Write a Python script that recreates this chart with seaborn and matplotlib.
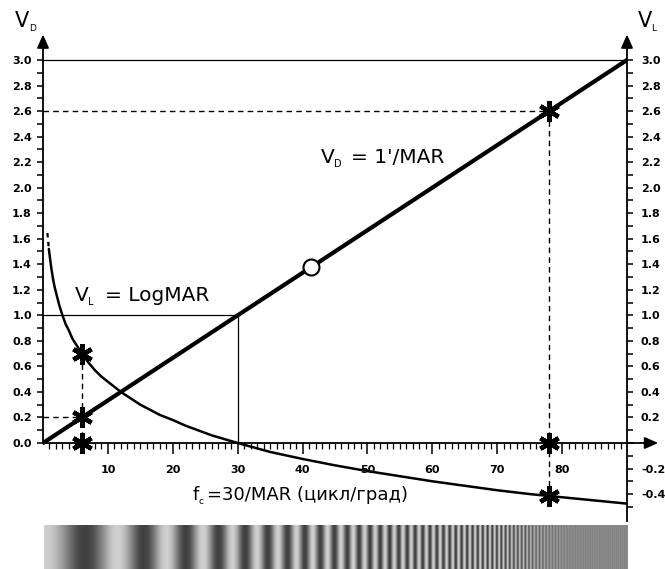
import numpy as np
import matplotlib
matplotlib.use("Agg")
import matplotlib.pyplot as plt
import seaborn as sns

# ---------------- data ----------------
fc_vd = [0, 90]                 # V_D = 1'/MAR line (fc = 30/MAR)
vd = [0.0, 3.0]

fc_vl = [0.9, 1.0, 1.2, 1.4, 1.6, 1.8, 2, 2.5, 3, 3.5, 4, 4.5, 5, 6, 7, 8, 9, 10, 12,
         15, 18, 20, 22, 26, 30, 35, 40, 45, 50, 55, 60, 65, 70, 75, 78, 82, 86, 90]
vl = [1.52, 1.48, 1.40, 1.33, 1.27, 1.22, 1.18, 1.08, 1.00, 0.93, 0.88, 0.82, 0.78,
      0.70, 0.63, 0.57, 0.52, 0.48, 0.40, 0.30, 0.22, 0.18, 0.135, 0.06, 0.0, -0.07,
      -0.125, -0.175, -0.22, -0.26, -0.30, -0.335, -0.37, -0.40, -0.415, -0.435,
      -0.455, -0.475]
fc_vl_dash = [0.68, 0.9]
vl_dash = [1.645, 1.52]

star_fc = [6, 6, 6, 78, 78, 78]
star_v = [0.70, 0.20, 0.0, 2.60, 0.0, -0.415]
circle_fc = [41.3]
circle_v = [1.377]

# reference lines (x pairs, y pairs)
solid_refs = [([0, 90], [3.0, 3.0]), ([0, 30], [1.0, 1.0]), ([30, 30], [1.0, 0.0])]
dashed_refs = [([0, 78], [2.6, 2.6]), ([78, 78], [2.6, -0.415]),
               ([0, 6], [0.2, 0.2]), ([6, 6], [0.7, 0.0])]

left_ticks = [0.0, 0.2, 0.4, 0.6, 0.8, 1.0, 1.2, 1.4, 1.6, 1.8, 2.0, 2.2, 2.4, 2.6, 2.8, 3.0]
right_ticks = [-0.4, -0.2, 0.2, 0.4, 0.6, 0.8, 1.0, 1.2, 1.4, 1.6, 1.8, 2.0, 2.2, 2.4,
               2.6, 2.8, 3.0]
x_ticks = [10, 20, 30, 40, 50, 60, 70, 80]

label_vd = "1'/MAR"
label_vl = "LogMAR"
label_x = "=30/MAR (цикл/град)"

# grating texture parameters (period in px at left edge, decay rate)
grating_p0 = 95.0
grating_k = 0.00674

# ---------------- figure ----------------
sns.set_theme(style="white")
plt.rcParams["font.family"] = ["DejaVu Sans"]
plt.rcParams["text.color"] = "black"
plt.rcParams["axes.labelcolor"] = "black"

W, H = 665, 569
fig = plt.figure(figsize=(W / 100, H / 100), dpi=100)
fig.patch.set_facecolor("white")

x0px, x90px = 43, 627
y3px, y0px = 60, 443
ppy = (y0px - y3px) / 3.0
ylo, yhi = -0.62, 3.05
bottom_px = y0px - ylo * ppy
top_px = y0px - yhi * ppy
ax = fig.add_axes([x0px / W, 1 - bottom_px / H, (x90px - x0px) / W, (bottom_px - top_px) / H])
ax.set_facecolor("none")
ax.set_xlim(0, 90)
ax.set_ylim(ylo, yhi)

# reference lines
for xs, ys in solid_refs:
    ax.plot(xs, ys, color="black", lw=0.9, zorder=2, solid_capstyle="butt")
for xs, ys in dashed_refs:
    ax.plot(xs, ys, color="black", lw=1.0, ls=(0, (4, 3)), zorder=2)

# curves
sns.lineplot(x=fc_vl, y=vl, ax=ax, color="black", lw=1.8, zorder=3, sort=False)
ax.plot(fc_vl_dash, vl_dash, color="black", lw=1.6, ls=(0, (2, 2)), zorder=3)
sns.lineplot(x=fc_vd, y=vd, ax=ax, color="black", lw=3.0, zorder=4, sort=False)

ax.plot(star_fc, star_v, ls="none", marker=(6, 2, 0), ms=15, mew=3.2, color="black",
        zorder=6, clip_on=False)
ax.plot(circle_fc, circle_v, ls="none", marker="o", ms=11.5, mfc="white", mec="black",
        mew=1.5, zorder=7)

# spines
for s in ["top", "right"]:
    ax.spines[s].set_visible(False)
ax.spines["left"].set_bounds(0, 3.0)
ax.spines["left"].set_linewidth(1.3)
ax.spines["left"].set_color("black")
ax.spines["bottom"].set_position(("data", 0))
ax.spines["bottom"].set_bounds(0, 90)
ax.spines["bottom"].set_linewidth(1.3)
ax.spines["bottom"].set_color("black")

ax.set_yticks(left_ticks)
ax.set_yticklabels([f"{v:.1f}" for v in left_ticks], fontweight="bold", fontsize=8)
ax.set_yticks([round(0.1 + 0.2 * i, 1) for i in range(15)], minor=True)
ax.tick_params(axis="y", which="both", direction="out", length=4, width=1.1, pad=4,
               colors="black", left=True)
ax.set_xticks(x_ticks)
ax.set_xticklabels([str(v) for v in x_ticks], fontweight="bold", fontsize=8)
ax.set_xticks([i for i in range(1, 90) if i % 10 != 0], minor=True)
ax.tick_params(axis="x", which="major", direction="out", length=8, width=1.1, pad=7.5,
               colors="black", bottom=True)
ax.tick_params(axis="x", which="minor", direction="out", length=4, width=0.9, bottom=True,
               colors="black")

tw = ax.twinx()
tw.set_ylim(ylo, yhi)
for s in ["top", "left", "bottom"]:
    tw.spines[s].set_visible(False)
tw.spines["right"].set_bounds(-0.61, 3.0)
tw.spines["right"].set_linewidth(1.3)
tw.spines["right"].set_color("black")
tw.set_yticks(right_ticks)
tw.set_yticklabels([f"{v:.1f}" for v in right_ticks], fontweight="bold", fontsize=8)
tw.set_yticks([round(-0.5 + 0.2 * i, 1) for i in range(18)] + [0.0], minor=True)
tw.tick_params(axis="y", which="both", direction="out", length=4, width=1.1, pad=6,
               colors="black", right=True)
tw.grid(False)
ax.grid(False)

# arrows
arrow_kw = dict(arrowstyle="-|>,head_length=0.45,head_width=0.2", lw=1.3, color="black",
                shrinkA=0, shrinkB=0, mutation_scale=18)
ax.annotate("", xy=(0, 3.2), xytext=(0, 2.99), arrowprops=arrow_kw, annotation_clip=False)
ax.annotate("", xy=(90, 3.2), xytext=(90, 2.99), arrowprops=arrow_kw, annotation_clip=False)
ax.annotate("", xy=(94.8, 0), xytext=(89.9, 0), arrowprops=arrow_kw, annotation_clip=False)


def vtext(x, y, sub, rest, size, subsize, subdrop, gap):
    ax.text(x, y, "V", fontsize=size, ha="left", va="baseline", color="black",
            clip_on=False)
    ax.annotate(sub, xy=(x, y), xytext=(0.66 * size, -subdrop), textcoords="offset points",
                fontsize=subsize, ha="left", va="baseline", annotation_clip=False,
                color="black")
    if rest:
        ax.annotate(rest, xy=(x, y), xytext=(0.66 * size + gap, 0),
                    textcoords="offset points", fontsize=size, ha="left",
                    va="baseline", annotation_clip=False, color="black")


vtext(42.8, 2.195, "D", "= " + label_vd, 14.5, 7, 3, 12)
vtext(4.9, 1.115, "L", "= " + label_vl, 14.5, 7, 3, 12)
vtext(-4.3, 3.262, "D", "", 15, 6.5, 3, 0)
vtext(91.6, 3.262, "L", "", 15, 6.5, 3, 0)

# x-axis caption
ax.text(23.0, -0.45, "f", fontsize=13, ha="left", va="baseline", clip_on=False,
        color="black")
ax.annotate("c", xy=(23.0, -0.45), xytext=(4.6, -2.5), textcoords="offset points",
            fontsize=6.5, ha="left", va="baseline", annotation_clip=False, color="black")
ax.annotate(label_x, xy=(23.0, -0.45), xytext=(10.5, 0), textcoords="offset points",
            fontsize=13, ha="left", va="baseline", annotation_clip=False, color="black")

# grating strip
gw = 584
ov = 8
xs = (np.arange(gw * ov) + 0.5) / ov
phase = (np.exp(grating_k * xs) - 1) / (grating_p0 * grating_k)
env = np.clip((535 - xs) / 80, 0.08, 1.0)
vals = 0.53 + 0.28 * env * np.cos(2 * np.pi * phase)
vals = vals.reshape(gw, ov).mean(axis=1)
gax = fig.add_axes([44 / W, 0, gw / W, 44 / H])
gax.imshow(np.tile(vals, (2, 1)), cmap="gray", vmin=0, vmax=1, aspect="auto",
           interpolation="nearest")
gax.set_axis_off()

fig.savefig("out.png", dpi=100)
